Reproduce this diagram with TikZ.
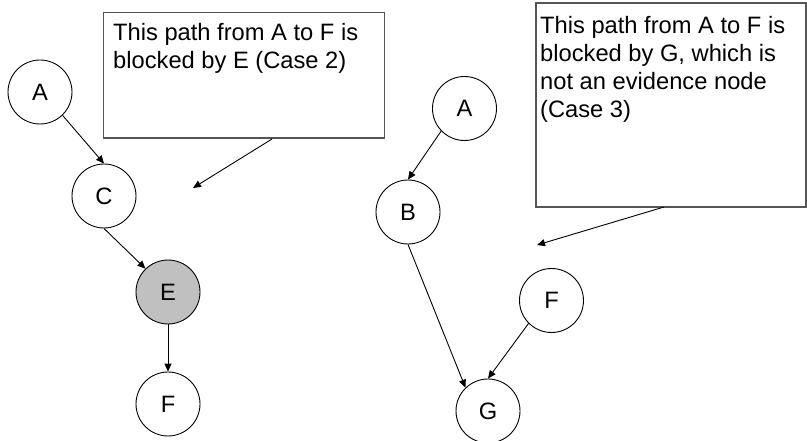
\documentclass[tikz,border=0pt]{standalone}
\usepackage{fontspec}
\setmainfont{Liberation Sans}
\usetikzlibrary{arrows.meta}
\begin{document}
\begin{tikzpicture}[x=1pt,y=-1pt,
  vnode/.style={circle,draw=black,line width=0.9pt,minimum size=64pt,inner sep=0pt,font=\fontsize{23.7}{28}\selectfont},
  evnode/.style={vnode,fill=evgrey},
  edge/.style={line width=0.9pt,-{Triangle[length=8pt,width=7pt]}},
  callout/.style={draw=boxgrey,line width=1.2pt,fill=white},
  calltext/.style={anchor=north west,inner sep=0pt,align=left,font=\fontsize{23.7}{28.3}\selectfont}]
\definecolor{evgrey}{HTML}{C0C0C0}
\definecolor{boxgrey}{HTML}{555555}
\useasboundingbox (0,0) rectangle (807,441);
% callout boxes
\draw[callout] (103.5,12.5) rectangle (384.5,138) coordinate (lbox);
\node[calltext] (ltext) at (113,22.7) {This path from A to F is\\blocked by E (Case 2)};
\draw[callout] (536,3) rectangle (806,207);
\node[calltext] (rtext) at (540,15.7) {This path from A to F is\\blocked by G, which is\\not an evidence node\\(Case 3)};
% left graph
\node[vnode] (A1) at (40,92) {A};
\node[vnode] (C) at (104,196) {C};
\node[evnode] (E) at (168,292) {E};
\node[vnode] (F1) at (168,404) {F};
% right graph
\node[vnode] (A2) at (464.5,108.5) {A};
\node[vnode] (B) at (408,212) {B};
\node[vnode] (F2) at (551.5,300.5) {F};
\node[vnode] (G) at (488,411) {G};
% edges
\draw[edge] (A1.-46) -- (C.north);
\draw[edge] (C.south) -- (E.134);
\draw[edge] (E.south) -- (F1.north);
\draw[edge] (A2.224) -- (B.north);
\draw[edge] (B.south) -- (G.134);
\draw[edge] (F2.225) -- (G.north);
% callout pointers
\coordinate (lfrom) at (272,139);
\coordinate (lto) at (193,188);
\coordinate (rfrom) at (664,207);
\coordinate (rto) at (537,245);
\draw[edge] (lfrom) -- (lto);
\draw[edge] (rfrom) -- (rto);
\end{tikzpicture}
\end{document}
